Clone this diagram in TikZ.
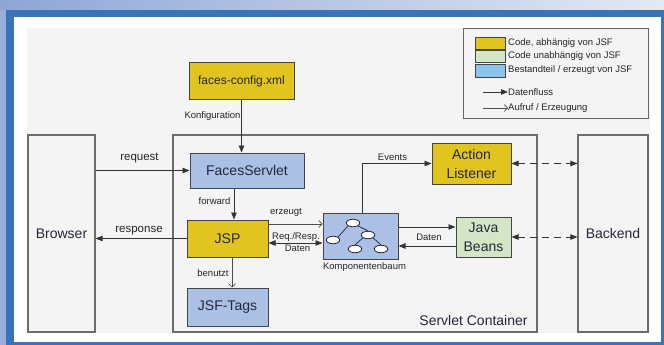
\documentclass[tikz,border=0pt]{standalone}
\usepackage{fontspec}
\setmainfont{Liberation Sans}
\usetikzlibrary{arrows.meta,calc,shapes.geometric}
\definecolor{jyellow}{HTML}{E2C41E}
\definecolor{jblue}{HTML}{AAC0E4}
\definecolor{jgreen}{HTML}{D3E6C5}
\definecolor{lblue}{HTML}{8DC4EC}
\definecolor{frameblue}{HTML}{3A74B8}
\definecolor{stripblue}{HTML}{98AFDB}
\definecolor{bandleft}{HTML}{8EA6D6}
\definecolor{bandright}{HTML}{E4E9F4}
\definecolor{bgray}{HTML}{F4F4F4}
\definecolor{lineg}{HTML}{444444}
\definecolor{txt}{HTML}{24273A}
\begin{document}
\begin{tikzpicture}[x=1pt,y=-1pt,
  box/.style={draw=lineg, line width=1pt, inner sep=0pt, align=center, text=txt,
    font=\fontsize{14}{19}\selectfont},
  bigbox/.style={draw=gray!85!black, line width=1.2pt, inner sep=0pt, align=center, text=txt,
    font=\fontsize{14}{19}\selectfont},
  lbl/.style={font=\fontsize{9.5}{11}\selectfont, text=black!85, inner sep=0pt},
  rlbl/.style={font=\fontsize{11.5}{13}\selectfont, text=black!85, inner sep=0pt},
  leg/.style={font=\fontsize{9.5}{10}\selectfont, text=black!85, inner sep=0pt, anchor=west},
  flow/.style={draw=black!80, line width=0.8pt, -{Triangle[length=7pt,width=5.5pt]}},
  bflow/.style={draw=black!80, line width=0.8pt, {Triangle[length=7pt,width=5.5pt]}-{Triangle[length=7pt,width=5.5pt]}},
  dflow/.style={bflow, dash pattern=on 7pt off 5pt},
  call/.style={draw=black!70, line width=0.6pt, -{Straight Barb[length=3.5pt,width=7pt]}},
  ell/.style={ellipse, draw=txt, line width=0.8pt, fill=white, minimum width=13.5pt, minimum height=7.5pt, inner sep=0pt},
  tree/.style={draw=txt, line width=0.7pt}
]
\useasboundingbox (0,0) rectangle (664,345);
% frame
\shade[left color=bandleft, right color=bandright] (0,0) rectangle (664,10);
\fill[stripblue] (0,10) rectangle (6,345);
\fill[frameblue] (6,10) rectangle (664,345);
\fill[white] (14,17) rectangle (661,342);
\fill[bgray] (27,28) rectangle (650,333);

% big boxes
\node[bigbox, fill=bgray, minimum width=364pt, minimum height=197pt] (sc) at (355,233.5) {};
\node[bigbox, fill=bgray, minimum width=67pt, minimum height=197pt] (br) at (61.5,233.5) {Browser};
\node[bigbox, fill=bgray, minimum width=70pt, minimum height=197pt] (bk) at (613,233.5) {Backend};
\node[font=\fontsize{14}{16}\selectfont, text=txt, inner sep=0pt] (sclbl) at (473.5,320) {Servlet Container};

% legend
\node[draw=gray!80!black, line width=0.8pt, fill=bgray, minimum width=185pt, minimum height=90pt, inner sep=0pt] (lg) at (555.5,73) {};
\node[draw=lineg, line width=0.6pt, fill=jyellow, minimum width=30pt, minimum height=12pt, inner sep=0pt] (s1) at (490,43) {};
\node[draw=lineg, line width=0.6pt, fill=jgreen, minimum width=30pt, minimum height=12pt, inner sep=0pt] (s2) at (490,56.5) {};
\node[draw=lineg, line width=0.6pt, fill=lblue, minimum width=30pt, minimum height=13pt, inner sep=0pt] (s3) at (490,70.5) {};
\node[leg] (t1) at (508,43) {Code, abhängig von JSF};
\node[leg] (t2) at (508,56.5) {Code unabhängig von JSF};
\node[leg] (t3) at (508,70.5) {Bestandteil / erzeugt von JSF};
\node[leg] (t4) at (508,92) {Datenfluss};
\node[leg] (t5) at (508,108) {Aufruf / Erzeugung};
\coordinate (a4) at (483,92);
\coordinate (a5) at (483,108);
\draw[flow] (a4) -- (t4.west);
\draw[call] (a5) -- (t5.west);

% component boxes
\node[box, fill=jyellow, minimum width=105pt, minimum height=36pt, font=\fontsize{12}{14}\selectfont] (fc) at (241.5,81) {faces-config.xml};
\node[box, fill=jblue, minimum width=114pt, minimum height=35pt] (fs) at (247,170.5) {FacesServlet};
\node[box, fill=jyellow, minimum width=81pt, minimum height=37pt] (jsp) at (227.5,238.5) {JSP};
\node[box, fill=jblue, minimum width=81pt, minimum height=38pt] (tags) at (227.5,307) {JSF-Tags};
\node[box, fill=jblue, minimum width=75pt, minimum height=46pt] (kb) at (360.5,236) {};
\node[box, fill=jyellow, minimum width=79pt, minimum height=41pt] (al) at (471.5,163.5) {Action\\Listener};
\node[box, fill=jgreen, minimum width=55pt, minimum height=40pt] (jb) at (483.5,237) {Java\\Beans};

% tree icon
\node[ell] (e1) at (353,223) {};
\node[ell] (e2) at (368,235) {};
\node[ell] (e3) at (333,240) {};
\node[ell] (e4) at (355,249) {};
\node[ell] (e5) at (381,249) {};
\draw[tree] (e1.south west) -- (e3.north east);
\draw[tree] (e1.south east) -- (e2.north);
\draw[tree] (e2.south west) -- (e4.north);
\draw[tree] (e2.south east) -- (e5.north);

% helper coordinates
\coordinate (xf) at (234,0);
\coordinate (xb) at (232,0);
\coordinate (xe) at (362,0);
\coordinate (ye) at (0,224);
\coordinate (yr) at (0,243);
\coordinate (yd1) at (0,227);
\coordinate (yd2) at (0,246);

% connectors
\draw[flow] (fc.south) -- (fc.south |- fs.north);
\draw[flow] (br.east |- fs.west) -- (fs.west);
\draw[flow] (jsp.west) -- (jsp.west -| br.east);
\draw[flow] (fs.south -| xf) -- (jsp.north -| xf);
\draw[call] (jsp.south -| xb) -- (tags.north -| xb);
\draw[call] (jsp.east |- ye) -- (kb.west |- ye);
\draw[bflow] (jsp.east |- yr) -- (kb.west |- yr);
\draw[flow] (kb.north -| xe) |- (al.west);
\draw[flow] (kb.east |- yd1) -- (jb.west |- yd1);
\draw[flow] (jb.west |- yd2) -- (kb.east |- yd2);
\draw[dflow] (al.east) -- (al.east -| bk.west);
\draw[dflow] (jb.east) -- (jb.east -| bk.west);

% labels
\node[lbl] (lkonf) at (212.5,116) {Konfiguration};
\node[rlbl] (lreq) at (139.5,158) {request};
\node[rlbl] (lresp) at (139,230.5) {response};
\node[lbl] (lfwd) at (214.5,201) {forward};
\node[lbl] (lerz) at (286,212) {erzeugt};
\node[lbl] (lrr) at (296,237) {Req./Resp.};
\node[lbl] (ldat1) at (297.5,248.5) {Daten};
\node[lbl] (lben) at (213,273) {benutzt};
\node[lbl] (lkb) at (364.5,267.5) {Komponentenbaum};
\node[lbl] (lev) at (392.5,157) {Events};
\node[lbl] (ldat2) at (429,237) {Daten};
\end{tikzpicture}
\end{document}
